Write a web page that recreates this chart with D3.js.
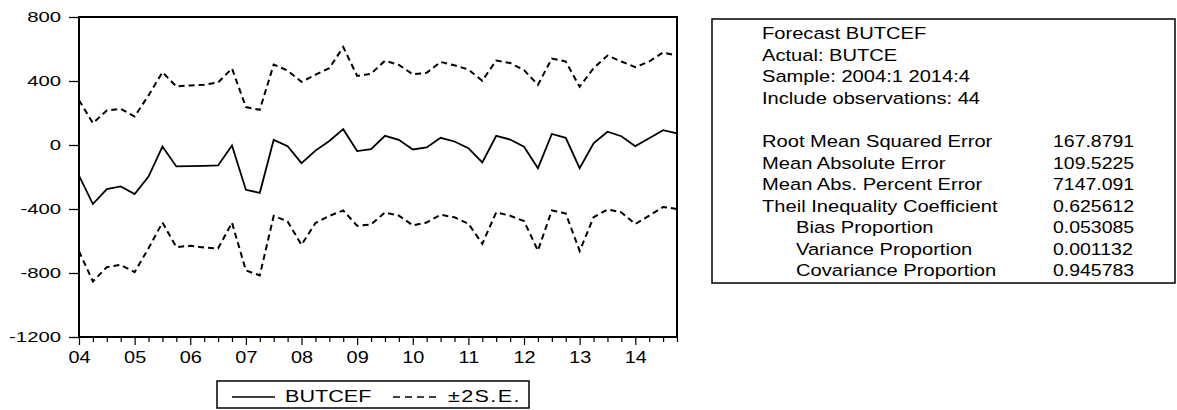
<!DOCTYPE html>
<html>
<head>
<meta charset="utf-8">
<script src="https://cdn.jsdelivr.net/npm/d3@7"></script>
<style>
  body { margin: 0; background: #fff; }
  svg { display: block; font-family: "Liberation Sans", Arial, sans-serif; }
</style>
</head>
<body>
<div id="chart"></div>
<script>
// quarterly sample 2004:1 - 2014:4
var years = ["04", "05", "06", "07", "08", "09", "10", "11", "12", "13", "14"];
var quarters = [1, 2, 3, 4];

// forecast BUTCEF
var forecast = [-192, -369, -276, -259, -307, -197, -10, -134, -132, -130, -128,
                -3, -280, -299, 32, -7, -113, -35, 25, 99, -38, -26,
                57, 32, -28, -15, 45, 22, -20, -109, 57, 34, -11,
                -145, 69, 45, -145, 10, 83, 55, -7, 42, 93, 72];
// forecast + 2 S.E.
var upper = [280, 137, 216, 226, 178, 310, 455, 366, 372, 376, 391,
             478, 237, 220, 503, 465, 395, 439, 480, 612, 432, 445,
             527, 501, 442, 451, 519, 498, 472, 402, 528, 512, 468,
             376, 540, 522, 364, 480, 559, 522, 487, 522, 578, 559];
// forecast - 2 S.E.
var lower = [-664, -853, -763, -749, -795, -645, -485, -638, -630, -640, -647,
             -485, -784, -815, -443, -478, -624, -488, -443, -409, -505, -497,
             -422, -441, -502, -484, -436, -452, -492, -617, -421, -442, -476,
             -660, -409, -428, -662, -452, -403, -421, -494, -442, -387, -400];

var yTicks = [-1200, -800, -400, 0, 400, 800];

var header = ["Forecast BUTCEF", "Actual: BUTCE", "Sample: 2004:1 2014:4", "Include observations: 44"];
var statLabels = ["Root Mean Squared Error", "Mean Absolute Error", "Mean Abs. Percent Error",
                  "Theil Inequality Coefficient", "Bias Proportion", "Variance Proportion", "Covariance Proportion"];
var statValues = ["167.8791", "109.5225", "7147.091", "0.625612", "0.053085", "0.001132", "0.945783"];

var W = 1177, H = 410;
var plot = {left: 79, right: 677, top: 17, bottom: 337};

var periods = [];
years.forEach(function(y) {
	quarters.forEach(function(q) { periods.push(y + ":" + q); });
});

var svg = d3.select("#chart").append("svg")
	.attr("width", W)
	.attr("height", H);

var x = d3.scalePoint()
	.domain(periods)
	.range([plot.left, plot.right]);

var y = d3.scaleLinear()
	.domain([-1200, 800])
	.range([plot.bottom, plot.top]);

// y axis (plain hyphen for negatives, as in the print)
var yAxis = svg.append("g")
	.attr("transform", "translate(" + plot.left + ",0)")
	.call(d3.axisLeft(y).tickValues(yTicks).tickSize(10).tickSizeOuter(0)
		.tickFormat(function(d) { return String(d); }));
yAxis.select(".domain").remove();
yAxis.selectAll("line").attr("stroke", "#000").attr("stroke-width", 1.3);
yAxis.selectAll("text")
	.attr("x", null)
	.attr("dy", null)
	.attr("transform", "translate(-18,4) scale(1.45,1)")
	.style("font-size", "14px")
	.style("font-family", "'Liberation Sans', Arial, sans-serif")
	.attr("fill", "#000");

// x axis
var xAxis = svg.append("g")
	.attr("transform", "translate(0," + plot.bottom + ")")
	.call(d3.axisBottom(x).tickSize(5).tickSizeOuter(0)
		.tickFormat(function(d) { return d.slice(-2) == ":1" ? d.slice(0, 2) : ""; }));
xAxis.select(".domain").remove();
xAxis.selectAll("line")
	.attr("stroke", "#000")
	.attr("stroke-width", 1.2)
	.attr("y2", function(d) { return d.slice(-2) == ":1" ? 8 : 5; });
xAxis.selectAll("text")
	.attr("y", null)
	.attr("dy", null)
	.attr("transform", "translate(0,26) scale(1.17,1)")
	.style("font-size", "17px")
	.style("font-family", "'Liberation Sans', Arial, sans-serif")
	.attr("fill", "#000");

// series
var line = d3.line()
	.x(function(d, i) { return x(periods[i]); })
	.y(function(d) { return y(d); });

[upper, lower].forEach(function(s) {
	svg.append("path")
		.datum(s)
		.attr("d", line)
		.attr("fill", "none")
		.attr("stroke", "#000")
		.attr("stroke-width", 2)
		.attr("stroke-dasharray", "6,4");
});

svg.append("path")
	.datum(forecast)
	.attr("d", line)
	.attr("fill", "none")
	.attr("stroke", "#000")
	.attr("stroke-width", 1.8);

// frame
svg.append("rect")
	.attr("x", plot.left)
	.attr("y", plot.top)
	.attr("width", plot.right - plot.left)
	.attr("height", plot.bottom - plot.top)
	.attr("fill", "none")
	.attr("stroke", "#000")
	.attr("stroke-width", 2);

// legend
var leg = svg.append("g");
leg.append("rect")
	.attr("x", 217).attr("y", 381)
	.attr("width", 312).attr("height", 27)
	.attr("fill", "none").attr("stroke", "#000").attr("stroke-width", 1.5);
leg.append("line")
	.attr("x1", 232).attr("x2", 275).attr("y1", 397).attr("y2", 397)
	.attr("stroke", "#000").attr("stroke-width", 1.3);
leg.append("text")
	.attr("transform", "translate(285,402) scale(1.35,1)")
	.style("font-size", "16px")
	.text("BUTCEF");
leg.append("line")
	.attr("x1", 393).attr("x2", 438).attr("y1", 397).attr("y2", 397)
	.attr("stroke", "#000").attr("stroke-width", 1.5)
	.attr("stroke-dasharray", "7,5");
leg.append("text")
	.attr("transform", "translate(448,402) scale(1.35,1)")
	.style("font-size", "16px")
	.style("letter-spacing", "1px")
	.text("\u00b12S.E.");

// forecast evaluation box
var box = svg.append("g");
box.append("rect")
	.attr("x", 712).attr("y", 19)
	.attr("width", 463).attr("height", 264)
	.attr("fill", "none").attr("stroke", "#000").attr("stroke-width", 1.5);

box.selectAll(".hdr")
	.data(header)
	.enter()
	.append("text")
	.attr("class", "hdr")
	.attr("transform", function(d, i) { return "translate(762," + (39 + i * 21.6) + ") scale(1.22,1)"; })
	.style("font-size", "16.5px")
	.text(function(d) { return d; });

box.selectAll(".lbl")
	.data(statLabels)
	.enter()
	.append("text")
	.attr("class", "lbl")
	.attr("transform", function(d, i) { return "translate(" + (i > 3 ? 796 : 762) + "," + (147 + i * 21.5) + ") scale(1.22,1)"; })
	.style("font-size", "16.5px")
	.text(function(d) { return d; });

box.selectAll(".val")
	.data(statValues)
	.enter()
	.append("text")
	.attr("class", "val")
	.attr("transform", function(d, i) { return "translate(1053," + (147 + i * 21.5) + ") scale(1.18,1)"; })
	.style("font-size", "16.5px")
	.text(function(d) { return d; });
</script>
</body>
</html>
